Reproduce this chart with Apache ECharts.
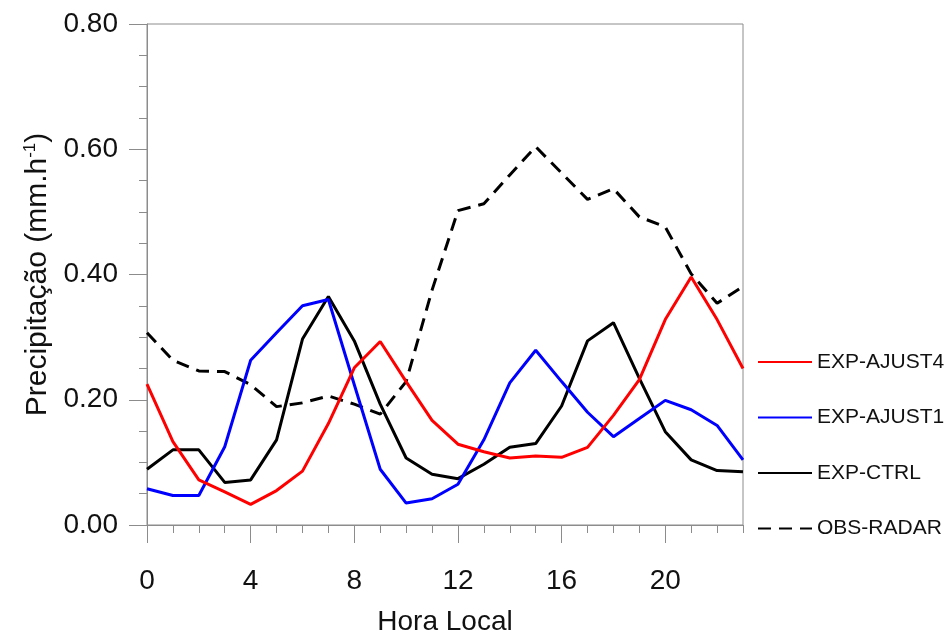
<!DOCTYPE html>
<html>
<head>
<meta charset="utf-8">
<script src="https://cdn.jsdelivr.net/npm/echarts@6/dist/echarts.min.js"></script>
<style>html,body{margin:0;padding:0;background:#fff}#c{width:948px;height:641px}</style>
</head>
<body>
<div id="c"></div>
<script>
const hours = [0,1,2,3,4,5,6,7,8,9,10,11,12,13,14,15,16,17,18,19,20,21,22,23];
const ajust4 = [0.225,0.133,0.072,0.053,0.033,0.055,0.086,0.162,0.251,0.293,0.229,0.167,0.129,0.117,0.107,0.110,0.108,0.124,0.175,0.232,0.328,0.396,0.328,0.250];
const ajust1 = [0.058,0.047,0.047,0.125,0.263,0.307,0.350,0.360,0.224,0.089,0.035,0.042,0.065,0.136,0.227,0.279,0.229,0.180,0.141,0.170,0.199,0.184,0.159,0.104];
const ctrl   = [0.089,0.120,0.120,0.068,0.072,0.136,0.297,0.365,0.294,0.193,0.107,0.081,0.074,0.097,0.124,0.130,0.190,0.294,0.323,0.234,0.149,0.104,0.087,0.085];
const radar  = [0.307,0.263,0.246,0.245,0.224,0.189,0.195,0.206,0.193,0.177,0.229,0.375,0.502,0.513,0.559,0.604,0.562,0.520,0.537,0.492,0.476,0.401,0.354,0.381];
const xMajorTicks = [0,4,8,12,16,20];
const seriesNames = ['EXP-AJUST4','EXP-AJUST1','EXP-CTRL','OBS-RADAR'];

const pair = arr => hours.map((h,i)=>[h,arr[i]]);
const FONT = '"Liberation Sans", Arial, Helvetica, sans-serif';
const axisGray = '#8c8c8c';

const chart = echarts.init(document.getElementById('c'), null, {renderer:'canvas'});
chart.setOption({
  animation:false,
  backgroundColor:'#fff',
  textStyle:{fontFamily:FONT},
  grid:{left:147,right:205,top:24,bottom:104,show:true,borderColor:axisGray,borderWidth:1,backgroundColor:'transparent'},
  xAxis:[{
    type:'value',min:0,max:23,interval:4,
    position:'bottom',
    name:'Hora Local',nameLocation:'middle',nameGap:83,
    nameTextStyle:{fontSize:28,color:'#111',fontFamily:FONT},
    axisLine:{show:true,lineStyle:{color:axisGray,width:1}},
    axisTick:{show:true,inside:false,length:18,lineStyle:{color:axisGray,width:1},customValues:xMajorTicks},
    axisLabel:{show:true,margin:42,fontSize:28,color:'#111',fontFamily:FONT,customValues:xMajorTicks,formatter:v=>String(v)},
    splitLine:{show:false}
  },{
    type:'value',min:0,max:23,interval:1,
    position:'bottom',offset:0,
    axisLine:{show:false},
    axisTick:{show:true,inside:false,length:8,lineStyle:{color:axisGray,width:1}},
    axisLabel:{show:false},
    splitLine:{show:false}
  }],
  yAxis:{
    type:'value',min:0,max:0.8,interval:0.2,
    name:'{a|Precipitação (mm.h}{s|-1}{a|)}',nameLocation:'middle',nameGap:94,
    nameTextStyle:{color:'#111',fontFamily:FONT,rich:{
      a:{fontSize:30,color:'#111',fontFamily:FONT,verticalAlign:'bottom',lineHeight:34},
      s:{fontSize:17,color:'#111',fontFamily:FONT,verticalAlign:'bottom',lineHeight:34,padding:[0,0,14,0]}
    }},
    axisLine:{show:true,lineStyle:{color:axisGray,width:1}},
    axisTick:{show:true,inside:false,length:18,lineStyle:{color:axisGray,width:1}},
    minorTick:{show:true,splitNumber:4,length:8,lineStyle:{color:axisGray,width:1}},
    axisLabel:{margin:29,fontSize:28,color:'#111',fontFamily:FONT,formatter:v=>v.toFixed(2)},
    splitLine:{show:false},minorSplitLine:{show:false}
  },
  legend:{
    orient:'vertical',left:757,top:351,padding:0,
    data:seriesNames,
    itemWidth:54,itemHeight:22,itemGap:33.5,
    itemStyle:{opacity:0},
    textStyle:{fontSize:21,color:'#111',fontFamily:FONT,lineHeight:22}
  },
  series:[
    {name:'EXP-AJUST4',type:'line',data:pair(ajust4),symbol:'none',lineStyle:{color:'#ff0000',width:3},itemStyle:{color:'#ff0000'},z:5},
    {name:'EXP-AJUST1',type:'line',data:pair(ajust1),symbol:'none',lineStyle:{color:'#0000ff',width:3},itemStyle:{color:'#0000ff'},z:4},
    {name:'EXP-CTRL',type:'line',data:pair(ctrl),symbol:'none',lineStyle:{color:'#000000',width:3},itemStyle:{color:'#000000'},z:3},
    {name:'OBS-RADAR',type:'line',data:pair(radar),symbol:'none',lineStyle:{color:'#000000',width:3,type:[13,8]},itemStyle:{color:'#000000'},z:2}
  ]
});
</script>
</body>
</html>
